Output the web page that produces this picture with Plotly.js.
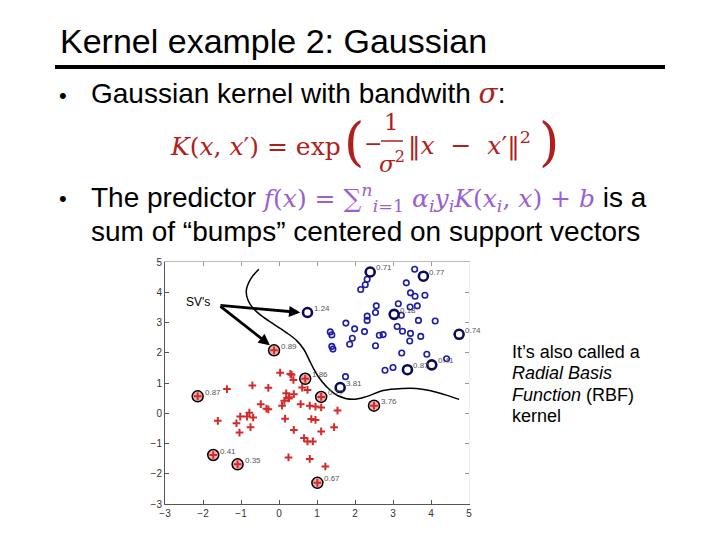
<!DOCTYPE html>
<html>
<head>
<meta charset="utf-8">
<script src="https://cdn.plot.ly/plotly-3.0.1.min.js"></script>
<style>html,body{margin:0;padding:0;background:#fff;}#chart{width:720px;height:540px;}</style>
</head>
<body>
<div id="chart"></div>
<script>
// ---- data ----
const blueX = [3.57,3.35,2.32,2.27,2.15,3.46,3.58,3.84,3.14,2.56,3.45,3.64,3.22,2.32,2.54,2.32,3.67,4.11,1.76,1.35,1.39,1.99,2.25,1.93,1.86,2.64,2.74,2.54,3.11,3.25,3.46,3.73,3.44,1.39,1.42,3.23,3.89,4.41,3.00,2.79,1.75];
const blueY = [4.76,4.31,4.43,4.25,4.09,3.98,3.87,3.90,3.62,3.55,3.51,3.55,3.24,3.21,3.33,3.07,3.07,3.05,2.98,2.69,2.59,2.79,2.70,2.48,2.28,2.58,2.60,2.23,2.87,2.71,2.64,2.54,2.39,2.21,2.12,1.99,1.95,1.80,1.51,1.42,1.21];
const blueSvX = [2.40,3.80,0.75,3.03,4.74,3.38,4.02,1.61];
const blueSvY = [4.67,4.53,3.33,3.27,2.61,1.44,1.60,0.85];
const blueSvLabels = ["0.71","0.77","1.24","0.18","0.74","0.87","0.41","3.81"];
const redX = [0.03,0.30,0.33,0.38,-0.70,-0.28,-1.37,0.61,0.75,0.19,0.39,0.26,0.14,-0.48,0.57,0.08,-0.33,-0.28,0.81,0.96,1.11,1.54,-0.78,-1.02,-0.84,-0.68,-1.61,-1.12,-0.75,0.16,0.85,0.96,-1.04,0.39,1.45,1.11,0.66,0.75,0.89,0.25,0.81,1.22,0.26];
const redY = [1.34,1.30,1.27,1.10,0.92,0.84,0.80,0.85,0.77,0.66,0.63,0.53,0.41,0.30,0.30,0.25,0.15,0.13,0.25,0.22,0.19,0.09,0.02,-0.11,-0.11,-0.14,-0.25,-0.33,-0.46,-0.18,-0.19,-0.22,-0.64,-0.55,-0.46,-0.60,-0.82,-0.93,-0.93,-1.46,-1.51,-1.76,0.49];
const redSvX = [-0.13,0.69,1.11,2.50,-2.14,-1.73,-1.09,1.01];
const redSvY = [2.08,1.14,0.54,0.25,0.56,-1.38,-1.69,-2.30];
const redSvLabels = ["0.89","1.86","0.7?","3.76","0.87","0.41","0.35","0.67"];
const boundaryX = [-0.53,-0.74,-0.86,-0.82,-0.70,-0.50,-0.16,0.20,0.46,0.66,0.80,0.92,1.05,1.25,1.55,1.95,2.30,2.74,3.26,3.61,3.96,4.40,4.74];
const boundaryY = [4.76,4.45,4.06,3.75,3.50,3.26,2.96,2.66,2.41,2.10,1.75,1.45,1.18,0.88,0.58,0.46,0.55,0.75,0.82,0.82,0.75,0.60,0.46];
const tickVals = [-3,-2,-1,0,1,2,3,4,5];
const xTickText = ["\u22123","\u22122","\u22121","0","1","2","3","4","5"];
const yTickVals = [-3,-2,-1,0,1,2,3,4,5];
const yTickText = ["\u22123","\u22122","\u22121","0","1","2","3","4","5"];
const svTextPos = [-2.14,3.67];
const arrowStart = [-1.58,3.57];
const arrowEnds = [[0.56,3.33],[-0.24,2.25]];

// ---- styling ----
const W = 720, H = 540;
const px = v => v / W;
const py = v => 1 - v / H;
const RED = '#b01e1e';
const PURPLE = '#9a5fd0';
const SANS = 'Liberation Sans, Arial, sans-serif';
const MATH = 'DejaVu Serif, serif';

const traces = [
  {x: boundaryX, y: boundaryY, mode: 'lines', line: {color: '#000', width: 1.5, shape: 'spline'}, hoverinfo: 'skip'},
  {x: blueX, y: blueY, mode: 'markers', marker: {symbol: 'circle-open', size: 5.5, color: '#1c1caa', line: {width: 1.6}}},
  {x: blueSvX, y: blueSvY, mode: 'markers', marker: {symbol: 'circle', size: 9, color: '#ffffff', line: {color: '#0b0b55', width: 2.6}}},
  {x: redX, y: redY, mode: 'markers', marker: {symbol: 'cross-thin', size: 5.5, color: '#d42a2a', line: {color: '#d42a2a', width: 2}}},
  {x: redSvX, y: redSvY, mode: 'markers', marker: {symbol: 'circle', size: 11, color: '#eeb0b0', line: {color: '#000', width: 1.5}}},
  {x: redSvX, y: redSvY, mode: 'markers', marker: {symbol: 'cross-thin', size: 5.5, color: '#d42a2a', line: {color: '#d42a2a', width: 2}}},
  {x: [null], y: [null], xaxis: 'x2', yaxis: 'y2', mode: 'markers'}
];

const annotations = [];
blueSvX.forEach((x, i) => annotations.push({x: x, y: blueSvY[i], xref: 'x', yref: 'y', text: blueSvLabels[i], showarrow: false, xanchor: 'left', yanchor: 'middle', xshift: 4, yshift: 4, font: {family: SANS, size: 8, color: '#555'}}));
redSvX.forEach((x, i) => annotations.push({x: x, y: redSvY[i], xref: 'x', yref: 'y', text: redSvLabels[i], showarrow: false, xanchor: 'left', yanchor: 'middle', xshift: 5, yshift: 4, font: {family: SANS, size: 8, color: '#555'}}));
arrowEnds.forEach(e => annotations.push({x: e[0], y: e[1], xref: 'x', yref: 'y', ax: arrowStart[0], ay: arrowStart[1], axref: 'x', ayref: 'y', text: '', showarrow: true, arrowhead: 2, arrowsize: 0.8, arrowwidth: 2.8, arrowcolor: '#000'}));
annotations.push({x: svTextPos[0], y: svTextPos[1], xref: 'x', yref: 'y', text: "SV's", showarrow: false, font: {family: SANS, size: 12, color: '#000'}});

// slide text
const paperNote = (x, y, text, size, opts) => Object.assign({x: px(x), y: py(y), xref: 'paper', yref: 'paper', text: text, showarrow: false, xanchor: 'left', yanchor: 'middle', font: {family: SANS, size: size, color: '#000'}}, opts || {});
const mathFont = (s, c) => ({font: {family: MATH, size: s, color: c || RED}});
annotations.push(paperNote(58, 41, 'Kernel example 2: Gaussian', 34));
annotations.push(paperNote(57, 95, '\u2022', 22));
annotations.push(paperNote(89, 94, 'Gaussian kernel with bandwith <span style="color:' + RED + ';font-family:DejaVu Serif"><i>\u03c3</i></span>:', 28));
annotations.push(paperNote(168, 146, '<i>K</i>(<i>x</i>, <i>x</i>\u2032) = exp', 25, mathFont(25)));
annotations.push(paperNote(342, 142, '(', 52, mathFont(52)));
annotations.push(paperNote(362, 143, '\u2212', 22, mathFont(22)));
annotations.push(paperNote(392, 122, '1', 23, Object.assign({xanchor: 'center'}, mathFont(23))));
annotations.push(paperNote(392, 162, '<i>\u03c3</i><sup>2</sup>', 23, Object.assign({xanchor: 'center'}, mathFont(23))));
annotations.push(paperNote(406, 144, '\u2016<i>x</i>\u00a0\u00a0\u2212\u00a0\u00a0<i>x</i>\u2032\u2016<sup>2</sup>', 25, mathFont(25)));
annotations.push(paperNote(537, 142, ')', 52, mathFont(52)));
annotations.push(paperNote(57, 199, '\u2022', 22));
annotations.push(paperNote(89, 198, 'The predictor <span style="color:' + PURPLE + ';font-family:DejaVu Serif;font-size:25px"><i>f</i>(<i>x</i>) = \u2211<sup><i>n</i></sup><sub><i>i</i>=1</sub> <i>\u03b1<sub>i</sub>y<sub>i</sub>K</i>(<i>x<sub>i</sub></i>, <i>x</i>) + <i>b</i></span> is a', 28));
annotations.push(paperNote(89, 232, 'sum of \u201cbumps\u201d centered on support vectors', 28));
annotations.push(paperNote(510, 352, 'It\u2019s also called a', 18));
annotations.push(paperNote(510, 373, '<i>Radial Basis</i>', 18));
annotations.push(paperNote(510, 395, '<i>Function</i> (RBF)', 18));
annotations.push(paperNote(510, 416, 'kernel', 18));

const layout = {
  width: W, height: H,
  margin: {l: 0, r: 0, t: 0, b: 0},
  paper_bgcolor: '#fff', plot_bgcolor: '#fff',
  showlegend: false,
  xaxis: {domain: [px(165), px(469)], range: [-3, 5], tickvals: tickVals, ticktext: xTickText, ticks: 'inside', ticklen: 4, tickcolor: '#555', showline: true, linecolor: '#555', linewidth: 1, showgrid: false, zeroline: false, tickfont: {family: SANS, size: 10, color: '#333'}, fixedrange: true, anchor: 'y'},
  yaxis: {domain: [1 - 504/H, 1 - 262/H], range: [-3, 5], tickvals: yTickVals, ticktext: yTickText, ticks: 'inside', ticklen: 4, tickcolor: '#555', showline: true, linecolor: '#555', linewidth: 1, showgrid: false, zeroline: false, tickfont: {family: SANS, size: 10, color: '#333'}, fixedrange: true, anchor: 'x'},
  xaxis2: {overlaying: 'x', side: 'top', anchor: 'y', range: [-3, 5], tickvals: tickVals, showticklabels: false, ticks: 'inside', ticklen: 4, tickcolor: '#999', showline: true, linecolor: '#bbb', linewidth: 1, showgrid: false, zeroline: false},
  yaxis2: {overlaying: 'y', side: 'right', anchor: 'x', range: [-3, 5], tickvals: yTickVals, showticklabels: false, ticks: 'inside', ticklen: 4, tickcolor: '#999', showline: true, linecolor: '#eee', linewidth: 1, showgrid: false, zeroline: false},
  shapes: [
    {type: 'line', xref: 'paper', yref: 'paper', x0: px(55), x1: px(665), y0: py(67), y1: py(67), line: {color: '#000', width: 4}},
    {type: 'line', xref: 'paper', yref: 'paper', x0: px(381), x1: px(403), y0: py(141), y1: py(141), line: {color: RED, width: 1.5}}
  ],
  annotations: annotations
};

Plotly.newPlot('chart', traces, layout, {staticPlot: true, displayModeBar: false});
</script>
</body>
</html>
